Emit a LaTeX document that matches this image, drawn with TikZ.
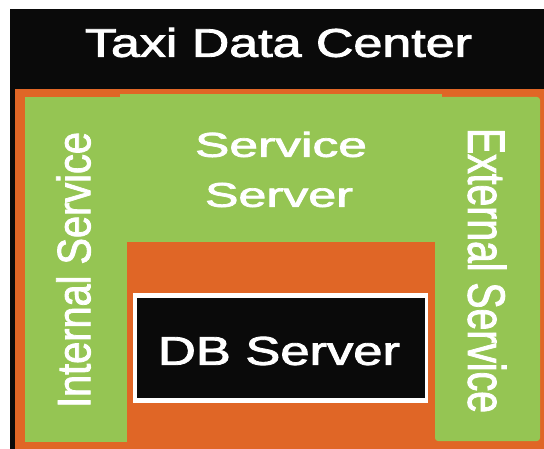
\documentclass[tikz,border=0pt]{standalone}
\usepackage{fontspec}
\setmainfont{Liberation Sans}[BoldFont=Liberation Sans, BoldFeatures={FakeBold=2}]
\usepackage{graphicx}
\usepackage{tikz}
\usetikzlibrary{positioning, calc}

\definecolor{dcblack}{HTML}{0A0A0A}
\definecolor{dcorange}{HTML}{E06626}
\definecolor{dcgreen}{HTML}{95C553}

\tikzset{
	lbl/.style={text=white, inner sep=0pt, anchor=center, font=\bfseries},
}

\begin{document}
\begin{tikzpicture}[x=1pt, y=-1pt]
		\useasboundingbox[fill=white] (0,0) rectangle (544,449);
		\fill[dcblack] (10,9.5) rectangle (544,449);
		\fill[dcorange] (15,89) rectangle (544,449);
		\fill[dcgreen] (120,94) rectangle (442,242);
		\fill[dcgreen] (25,97) rectangle (127,442);
		\fill[dcgreen, rounded corners=3pt] (435,97) -- (540,97) -- (540,441) -- (435,441) -- cycle;
		\fill[white] (133,293) rectangle (428,403);
		\fill[dcblack] (137,298) rectangle (425,398);
		\node[lbl] (title) at (278.5,42.5) {\resizebox{387pt}{29pt}{Taxi Data Center}};
		\node[lbl] (srv1) at (281,144.5) {\resizebox{172pt}{25pt}{Service}};
		\node[lbl] (srv2) at (279,195) {\resizebox{148pt}{24pt}{Server}};
		\node[lbl] (db) at (279,351) {\resizebox{242pt}{28pt}{DB Server}};
		\node[lbl, rotate=90] (intsvc) at (73.5,270) {\resizebox{276pt}{34pt}{Internal Service}};
		\node[lbl, rotate=-90] (extsvc) at (487,270.5) {\resizebox{285pt}{38pt}{External Service}};
	\end{tikzpicture}
\end{document}
